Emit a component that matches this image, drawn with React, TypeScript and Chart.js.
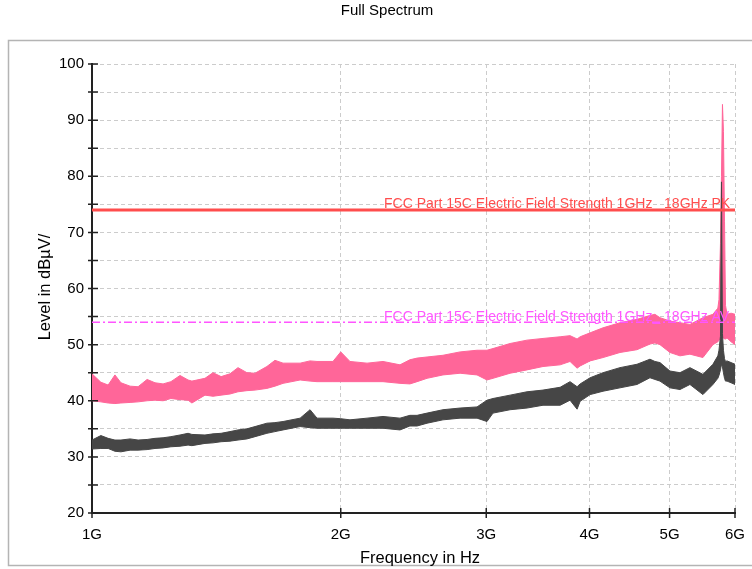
import React, { useEffect, useRef } from "react";
import { Chart, registerables } from "chart.js";

Chart.register(...registerables);

// ---- data ----
const freqGHz = [
  1.0, 1.025, 1.046, 1.066, 1.084, 1.112, 1.137, 1.166, 1.192, 1.219, 1.246, 1.278, 1.307, 1.321,
  1.37, 1.401, 1.433, 1.469, 1.502, 1.54, 1.575, 1.628, 1.665, 1.703, 1.786, 1.836, 1.872, 1.957,
  2.0, 2.052, 2.152, 2.25, 2.359, 2.425, 2.474, 2.544, 2.659, 2.789, 2.924, 3.006, 3.057, 3.206,
  3.361, 3.514, 3.686, 3.789, 3.864, 3.897, 4.007, 4.154, 4.355, 4.566, 4.734, 4.8, 4.868, 5.005,
  5.147, 5.292, 5.487, 5.642, 5.72, 5.738, 5.762, 5.778, 5.794, 5.81, 5.827, 5.843, 5.868, 5.935, 6.0,
];

// Peak trace (pink): upper and lower edge of the noise band
const peakUpper = [
  44.8, 43.3, 42.8, 44.6, 43.2, 42.6, 42.5, 43.8, 43.2, 43.0, 43.4, 44.5, 43.7, 43.5,
  44.0, 45.0, 44.3, 44.8, 45.9, 45.0, 44.9, 46.1, 47.2, 46.7, 46.7, 47.1, 47.0, 47.0,
  48.7, 47.0, 46.7, 47.0, 46.4, 47.3, 47.6, 47.8, 48.1, 48.7, 49.0, 49.0, 49.3, 50.2,
  50.8, 51.1, 51.4, 51.6, 51.0, 51.4, 52.1, 53.0, 53.9, 54.5, 55.2, 55.4, 54.8, 54.2,
  53.9, 53.6, 54.8, 55.4, 56.5, 58.0, 68.0, 80.0, 92.8, 88.0, 72.0, 57.0, 55.4, 55.6, 55.4,
];
const peakLower = [
  40.0, 39.8, 39.6, 39.5, 39.6, 39.7, 39.8, 40.0, 40.1, 40.0, 40.4, 40.2, 40.1, 39.6,
  41.0, 40.8, 41.0, 41.2, 41.6, 41.8, 41.9, 42.2, 42.6, 43.1, 43.7, 43.5, 43.4, 43.4,
  43.4, 43.4, 43.4, 43.4, 43.1, 43.0, 43.4, 44.0, 44.6, 44.9, 44.6, 43.7, 44.0, 44.9,
  45.5, 46.1, 46.4, 47.0, 45.8, 46.2, 47.1, 47.7, 48.6, 49.1, 50.1, 50.3, 50.0, 48.6,
  48.0, 48.3, 47.7, 50.0, 50.5, 50.8, 51.0, 51.0, 51.2, 51.2, 51.0, 51.0, 51.2, 50.5, 50.0,
];

// Average trace (dark grey): upper and lower edge of the noise band
const avgUpper = [
  33.0, 33.8, 33.3, 33.0, 33.0, 33.2, 33.0, 33.1, 33.3, 33.4, 33.6, 33.9, 34.2, 34.0,
  33.9, 34.1, 34.2, 34.5, 34.8, 35.0, 35.4, 36.0, 36.1, 36.3, 36.9, 38.4, 36.9, 36.9,
  36.8, 36.6, 36.9, 37.2, 36.9, 37.4, 37.4, 37.8, 38.4, 38.7, 38.9, 40.1, 40.4, 41.0,
  41.6, 41.9, 42.4, 43.4, 42.5, 43.0, 44.1, 45.0, 45.9, 46.5, 47.4, 47.0, 46.8, 45.3,
  45.0, 45.9, 44.7, 46.5, 48.0, 49.0, 51.5, 79.0, 52.0, 49.0, 47.5, 47.0, 47.1, 46.8, 46.5,
];
const avgLower = [
  31.4, 31.5, 31.5, 31.0, 30.9, 31.2, 31.2, 31.3, 31.5, 31.6, 31.8, 31.9, 32.1, 32.0,
  32.4, 32.5, 32.7, 32.8, 33.0, 33.2, 33.6, 34.2, 34.5, 34.8, 35.4, 35.2, 35.1, 35.1,
  35.1, 35.1, 35.1, 35.1, 34.8, 35.5, 35.5, 36.0, 36.6, 36.9, 36.9, 36.3, 37.8, 38.4,
  38.7, 39.2, 39.2, 40.1, 38.5, 39.9, 41.1, 41.7, 42.3, 42.9, 44.1, 43.8, 43.5, 42.3,
  42.0, 42.9, 41.1, 42.9, 44.0, 44.5, 45.5, 46.5, 46.0, 45.0, 44.0, 43.5, 43.5, 43.2, 42.9,
];

const limitFreqGHz = [1, 6];
const limitPeak = [74, 74];
const limitAvg = [54, 54];
const limitPeakLabel = "FCC Part 15C Electric Field Strength 1GHz_ 18GHz PK";
const limitAvgLabel = "FCC Part 15C Electric Field Strength 1GHz_ 18GHz AV";
const limitLabelStartGHz = 2.256;

const xTickGHz = [1, 2, 3, 4, 5, 6];
const xTickLabels = ["1G", "2G", "3G", "4G", "5G", "6G"];
const yMin = 20;
const yMax = 100;
const yStep = 5;

const chartTitle = "Full Spectrum";
const xTitle = "Frequency in Hz";
const yTitle = "Level in dBµV/";

// ---- styles ----
const FONT = '"Liberation Sans", Arial, sans-serif';
const PINK = "#ff6699";
const DARK = "#464646";
const RED = "#ff4d4d";
const MAGENTA = "#ff55ff";
const GRID = "#cccccc";

const pts = (fs: number[], vs: number[]) => fs.map((f, i) => ({ x: f * 1e9, y: vs[i] }));

const zeroPad = (s: any) => {
  s.paddingLeft = 0;
  s.paddingRight = 0;
  s.paddingTop = 0;
  s.paddingBottom = 0;
};

const decor = {
  id: "decor",
  beforeDraw(chart: any) {
    const ctx = chart.ctx;
    ctx.save();
    ctx.fillStyle = "#fff";
    ctx.fillRect(0, 0, chart.width, chart.height);
    ctx.strokeStyle = "#b4b4b4";
    ctx.lineWidth = 1.5;
    ctx.strokeRect(8.5, 40.5, 800, 525);
    ctx.fillStyle = "#000";
    ctx.textAlign = "center";
    ctx.textBaseline = "middle";
    ctx.font = `15px ${FONT}`;
    ctx.fillText(chartTitle, 387, 11);
    ctx.font = `16.5px ${FONT}`;
    ctx.fillText(xTitle, 420, 558);
    ctx.translate(45, 287);
    ctx.rotate(-Math.PI / 2);
    ctx.fillText(yTitle, 0, 0);
    ctx.restore();
  },
  afterDatasetsDraw(chart: any) {
    const ctx = chart.ctx;
    const a = chart.chartArea;
    const xs = chart.scales.x;
    const ys = chart.scales.y;
    ctx.save();
    ctx.beginPath();
    ctx.rect(a.left, a.top, a.right - a.left, a.bottom - a.top);
    ctx.clip();
    ctx.font = `14px ${FONT}`;
    ctx.textAlign = "left";
    ctx.textBaseline = "alphabetic";
    const x0 = xs.getPixelForValue(limitLabelStartGHz * 1e9);
    ctx.fillStyle = RED;
    ctx.fillText(limitPeakLabel, x0, ys.getPixelForValue(limitPeak[0]) - 2);
    ctx.fillStyle = MAGENTA;
    ctx.fillText(limitAvgLabel, x0, ys.getPixelForValue(limitAvg[0]) - 1);
    ctx.restore();
  },
  afterDraw(chart: any) {
    const ctx = chart.ctx;
    const a = chart.chartArea;
    const xs = chart.scales.x;
    const ys = chart.scales.y;
    ctx.save();
    ctx.strokeStyle = "#222";
    ctx.lineWidth = 1.5;
    ctx.beginPath();
    for (let v = yMin; v <= yMax; v += yStep) {
      const y = ys.getPixelForValue(v);
      ctx.moveTo(a.left - 4, y);
      ctx.lineTo(a.left + 6, y);
    }
    for (const g of xTickGHz) {
      const x = xs.getPixelForValue(g * 1e9);
      ctx.moveTo(x, a.bottom - 5);
      ctx.lineTo(x, a.bottom + 5);
    }
    ctx.stroke();
    ctx.restore();
  },
};

export default function App() {
  const ref = useRef<HTMLCanvasElement>(null);
  useEffect(() => {
    if (!ref.current) return;
    const chart = new Chart(ref.current, {
      type: "line",
      data: {
        datasets: [
          { data: pts(limitFreqGHz, limitPeak), borderColor: RED, borderWidth: 3, fill: false },
          {
            data: pts(limitFreqGHz, limitAvg),
            borderColor: MAGENTA,
            borderWidth: 1.5,
            borderDash: [8, 3, 2, 3],
            fill: false,
          },
          {
            data: pts(freqGHz, avgUpper),
            borderColor: DARK,
            backgroundColor: DARK,
            borderWidth: 1,
            fill: "+1",
          },
          { data: pts(freqGHz, avgLower), borderColor: DARK, borderWidth: 1, fill: false },
          {
            data: pts(freqGHz, peakUpper),
            borderColor: PINK,
            backgroundColor: PINK,
            borderWidth: 1,
            fill: "+1",
          },
          { data: pts(freqGHz, peakLower), borderColor: PINK, borderWidth: 1, fill: false },
        ],
      },
      options: {
        animation: false,
        responsive: false,
        parsing: false as any,
        layout: { padding: { left: 32, right: 17, top: 64, bottom: 2 } },
        elements: { point: { radius: 0 }, line: { tension: 0 } },
        plugins: {
          legend: { display: false },
          tooltip: { enabled: false },
          title: { display: false },
        },
        scales: {
          x: {
            type: "logarithmic",
            min: xTickGHz[0] * 1e9,
            max: xTickGHz[xTickGHz.length - 1] * 1e9,
            afterBuildTicks: (s: any) => {
              s.ticks = xTickGHz.map((g) => ({ value: g * 1e9 }));
            },
            afterFit: (s: any) => {
              s.height = 54;
              zeroPad(s);
            },
            ticks: {
              autoSkip: false,
              maxRotation: 0,
              padding: 13,
              color: "#000",
              font: { family: FONT, size: 15 },
              callback: (_v: any, i: number) => xTickLabels[i],
            },
            grid: { color: GRID, lineWidth: 1, drawTicks: false },
            border: { display: true, color: "#222", width: 2, dash: [4, 3] },
          },
          y: {
            type: "linear",
            min: yMin,
            max: yMax,
            afterFit: (s: any) => {
              s.width = 60;
              zeroPad(s);
            },
            ticks: {
              stepSize: yStep,
              padding: 8,
              color: "#000",
              font: { family: FONT, size: 15 },
              callback: (v: any) => (Number(v) % 10 === 0 ? String(v) : ""),
            },
            grid: { color: GRID, lineWidth: 1, drawTicks: false },
            border: { display: true, color: "#222", width: 2, dash: [4, 3] },
          },
        },
      },
      plugins: [decor],
    });
    return () => chart.destroy();
  }, []);
  return (
    <div style={{ position: "absolute", left: 0, top: 0, width: 752, height: 569 }}>
      <canvas ref={ref} width={752} height={569} style={{ width: 752, height: 569 }} />
    </div>
  );
}
